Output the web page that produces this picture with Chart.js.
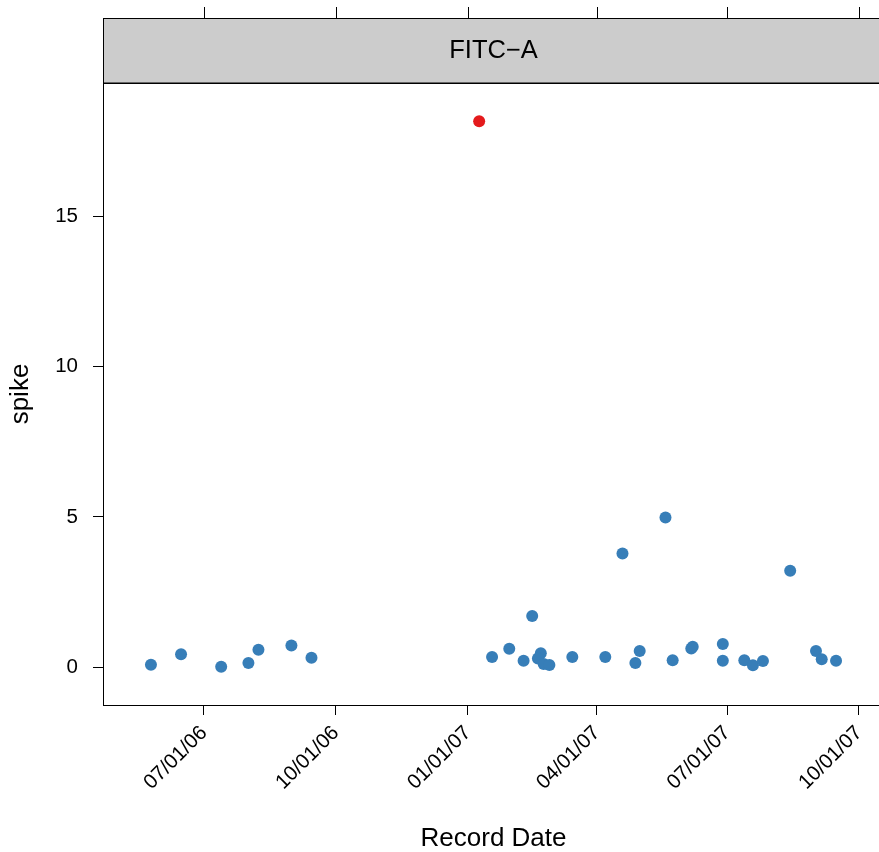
<!DOCTYPE html>
<html>
<head>
<meta charset="utf-8">
<script src="https://cdn.jsdelivr.net/npm/chart.js@4/dist/chart.umd.min.js"></script>
<style>
html, body { margin: 0; padding: 0; background: #ffffff; overflow: hidden; width: 879px; height: 852px; }
#wrap { position: absolute; left: 0; top: 0; width: 890px; height: 852px; }
</style>
</head>
<body>
<div id="wrap"><canvas id="c" width="890" height="852"></canvas></div>
<script>
// ---- data ----
const stripLabel = "FITC\u2212A";
const xTitle = "Record Date";
const yTitle = "spike";
const recordDates = ["2006-05-25","2006-06-15","2006-07-13","2006-08-01","2006-08-08","2006-08-31","2006-09-14",
  "2007-01-18","2007-01-30","2007-02-09","2007-02-15","2007-02-21","2007-02-19","2007-02-23","2007-02-27",
  "2007-03-15","2007-04-07","2007-04-19","2007-04-28","2007-05-01","2007-05-19","2007-05-24","2007-06-06",
  "2007-06-07","2007-06-28","2007-06-28","2007-07-13","2007-07-19","2007-07-26","2007-08-14","2007-09-01",
  "2007-09-05","2007-09-15"];
const spikeValues = [0.08,0.43,0.01,0.14,0.58,0.72,0.31,
  0.34,0.61,0.21,1.70,0.46,0.29,0.10,0.07,
  0.34,0.34,3.78,0.14,0.54,4.98,0.23,0.62,
  0.68,0.77,0.21,0.23,0.06,0.20,3.21,0.54,
  0.26,0.21];
const outlierDates = ["2007-01-09"];
const outlierValues = [18.18];
const xTickDates = ["2006-07-01","2006-10-01","2007-01-01","2007-04-01","2007-07-01","2007-10-01"];
const xTickLabels = ["07/01/06","10/01/06","01/01/07","04/01/07","07/01/07","10/01/07"];
const yTickValues = [0, 5, 10, 15];

// ---- helpers ----
function dayNum(s) { const p = s.split("-").map(Number); return Date.UTC(p[0], p[1]-1, p[2]) / 86400000; }
const mainPts = recordDates.map((d, i) => ({ x: dayNum(d), y: spikeValues[i] }));
const outPts = outlierDates.map((d, i) => ({ x: dayNum(d), y: outlierValues[i] }));
const allX = mainPts.concat(outPts).map(p => p.x);
const allY = mainPts.concat(outPts).map(p => p.y);
const xr = Math.max(...allX) - Math.min(...allX);
const yr = Math.max(...allY) - Math.min(...allY);
const xMin = Math.min(...allX) - 0.07 * xr, xMax = Math.max(...allX) + 0.07 * xr;
const yMin = Math.min(...allY) - 0.07 * yr, yMax = Math.max(...allY) + 0.07 * yr;
const xTickVals = xTickDates.map(dayNum);

const FONT = "'Liberation Sans', Arial, Helvetica, sans-serif";
Chart.defaults.font.family = FONT;
Chart.defaults.color = "#000000";

const stripPlugin = {
  id: "strip",
  afterDraw(chart) {
    const ctx = chart.ctx, a = chart.chartArea, xs = chart.scales.x;
    const sTop = 18.5, sBot = a.top;
    ctx.save();
    // strip
    ctx.fillStyle = "#CCCCCC";
    ctx.fillRect(a.left, sTop, a.right - a.left, sBot - sTop);
    ctx.strokeStyle = "#000000";
    ctx.lineWidth = 1;
    ctx.strokeRect(Math.round(a.left) + 0.5, sTop, a.right - a.left, sBot - sTop);
    ctx.fillStyle = "#000000";
    ctx.font = "25.5px " + FONT;
    ctx.textAlign = "center";
    ctx.textBaseline = "middle";
    ctx.fillText(stripLabel, (a.left + a.right) / 2, (sTop + sBot) / 2);
    // top ticks
    ctx.beginPath();
    xTickVals.forEach(v => {
      const px = Math.round(xs.getPixelForValue(v)) + 0.5;
      ctx.moveTo(px, 7); ctx.lineTo(px, sTop);
    });
    ctx.stroke();
    // panel frame
    ctx.strokeRect(Math.round(a.left) + 0.5, Math.round(a.top) + 0.5, a.right - a.left, a.bottom - a.top);
    ctx.restore();
  }
};

new Chart(document.getElementById("c"), {
  type: "scatter",
  data: {
    datasets: [
      { label: "spike", data: mainPts, backgroundColor: "#377EB8", borderWidth: 0, pointRadius: 6, pointHoverRadius: 6 },
      { label: "outlier", data: outPts, backgroundColor: "#E41A1C", borderWidth: 0, pointRadius: 6, pointHoverRadius: 6 }
    ]
  },
  options: {
    responsive: false,
    animation: false,
    events: [],
    layout: { padding: { top: 83, right: 6, left: 0, bottom: 0 } },
    plugins: { legend: { display: false }, tooltip: { enabled: false } },
    scales: {
      x: {
        type: "linear",
        min: xMin, max: xMax,
        afterFit(s) { s.height = 147; },
        afterBuildTicks(s) { s.ticks = xTickVals.map(v => ({ value: v })); },
        ticks: {
          autoSkip: false, minRotation: 45, maxRotation: 45, padding: 6,
          font: { size: 20.5 },
          callback(v) { const i = xTickVals.indexOf(v); return i >= 0 ? xTickLabels[i] : ""; }
        },
        grid: { display: true, drawOnChartArea: false, drawTicks: true, tickLength: 10, color: "#000000", lineWidth: 1 },
        border: { display: true, color: "#000000", width: 1 },
        title: { display: true, text: xTitle, font: { size: 26, lineHeight: 1.05 }, padding: { top: 0, bottom: 0 } }
      },
      y: {
        type: "linear",
        min: yMin, max: yMax,
        afterFit(s) { s.width = 103; },
        afterBuildTicks(s) { s.ticks = yTickValues.map(v => ({ value: v })); },
        ticks: { padding: 15, font: { size: 20.5 } },
        grid: { display: true, drawOnChartArea: false, drawTicks: true, tickLength: 10, color: "#000000", lineWidth: 1 },
        border: { display: true, color: "#000000", width: 1 },
        title: { display: true, text: yTitle, font: { size: 26 }, padding: { top: 5, bottom: 0 } }
      }
    }
  },
  plugins: [stripPlugin]
});
</script>
</body>
</html>
